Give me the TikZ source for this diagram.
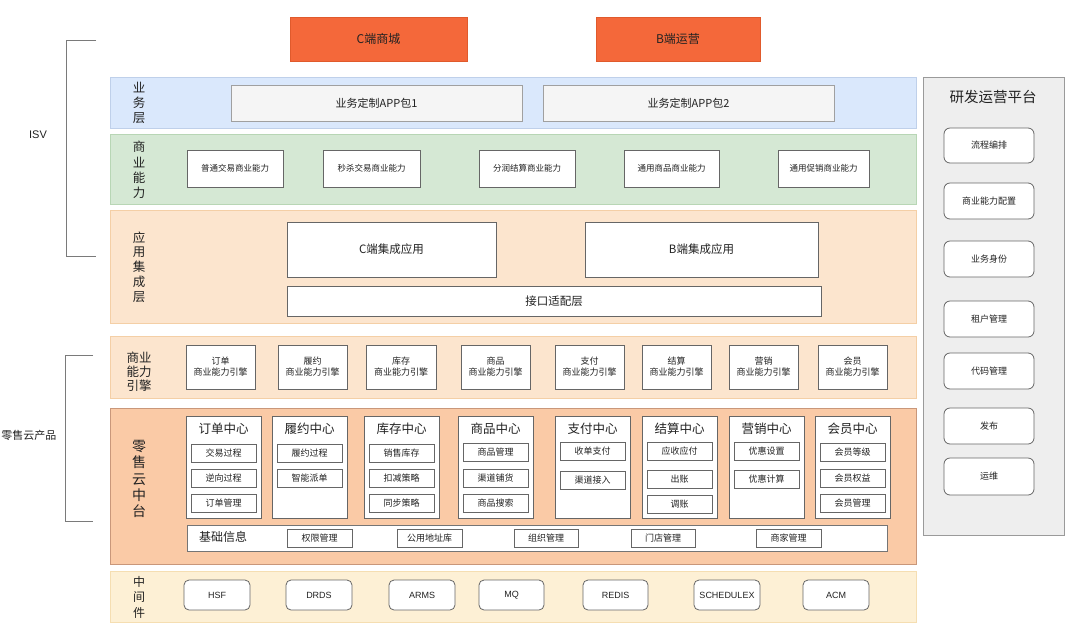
\documentclass[tikz,border=0pt]{standalone}
\usepackage{fontspec}
\setmainfont{Noto Sans CJK SC}
\newfontfamily\latinf{Liberation Sans}
\definecolor{cT}{HTML}{222222}
\definecolor{cOrF}{HTML}{F4683A}
\definecolor{cOrD}{HTML}{E05A2C}
\definecolor{cBlF}{HTML}{DAE8FC}
\definecolor{cBlD}{HTML}{BFD0EA}
\definecolor{cGrF}{HTML}{D5E8D4}
\definecolor{cGrD}{HTML}{B8D6B5}
\definecolor{cPeF}{HTML}{FCE5CE}
\definecolor{cPeD}{HTML}{F4CFA6}
\definecolor{cSpF}{HTML}{FACAA6}
\definecolor{cSpD}{HTML}{C9977A}
\definecolor{cYeF}{HTML}{FDF0D5}
\definecolor{cYeD}{HTML}{F5DEB2}
\definecolor{cPaF}{HTML}{EEEEEE}
\definecolor{cPaD}{HTML}{9A9A9A}
\definecolor{cBoxD}{HTML}{666666}
\definecolor{cAppF}{HTML}{F5F5F5}
\definecolor{cAppD}{HTML}{A0A0A0}
\definecolor{cBr}{HTML}{7A7A7A}
\newcommand\fsz[2]{\fontsize{#1}{#2}\selectfont}
\newcommand\mkbox[7]{\node[#6,minimum width={((#4)-(#2))*1pt},minimum height={((#5)-(#3))*1pt}] (#1) at ({((#2)+(#4))/2},{((#3)+(#5))/2}) {#7};}
\newcommand\ctr[3]{\mkbox{#1}{#2}{416}{#2+75}{518}{cbox}{}\node[ctitle] (#1t) at ({#2+37.5},429) {#3};}
\newcommand\itm[4]{\mkbox{#1}{#2+5}{#3}{#2+70}{#3+18}{ibox}{#4}}
\begin{document}
\begin{tikzpicture}[x=1pt,y=-1pt,
  every node/.style={inner sep=0pt,outer sep=0pt,text=cT,align=center},
  band/.style n args={2}{draw=#2,fill=#1,line width=0.8pt},
  topbox/.style={draw=cOrD,fill=cOrF,line width=0.8pt,font=\fsz{12}{14}},
  appbox/.style={draw=cAppD,fill=cAppF,line width=0.8pt,font=\fsz{11}{13}},
  tbox/.style={draw=cBoxD,fill=white,line width=0.8pt},
  capbox/.style={tbox,font=\fsz{8.5}{10}},
  intbox/.style={tbox,font=\fsz{11.5}{13}},
  engbox/.style={tbox,font=\fsz{9}{11}},
  cbox/.style={tbox},
  ctitle/.style={font=\fsz{12.5}{14}},
  ibox/.style={tbox,font=\fsz{9}{10}},
  basebox/.style={draw=cBoxD!90,fill=white,line width=0.8pt},
  bitem/.style={tbox,font=\fsz{9}{10}},
  mwbox/.style={tbox,rounded corners=5pt,font=\latinf\fsz{9}{10}},
  pbox/.style={tbox,rounded corners=6pt,font=\fsz{9}{10}},
  vlab/.style={font=\fsz{12.5}{15}},
  bracket/.style={draw=cBr,line width=1pt},
  side/.style={font=\fsz{11}{13}}]
\fill[white] (0,0) rectangle (1080,633);
\useasboundingbox (0,0) rectangle (1080,633);

% top boxes
\mkbox{cmall}{290}{17}{467}{61}{topbox}{C端商城}
\mkbox{bops}{596}{17}{760}{61}{topbox}{B端运营}

% ISV bracket
\coordinate (isvA) at (96,40);
\coordinate (isvB) at (96,256);
\draw[bracket] (isvA) -- ++(-30,0) |- (isvB);
\node[side,font=\latinf\fsz{11}{13}] (isv) at (38,135) {ISV};

% retail bracket
\coordinate (rtA) at (93,355);
\coordinate (rtB) at (93,521);
\draw[bracket] (rtA) -- ++(-28,0) |- (rtB);
\node[side] (rtl) at (29,435) {零售云产品};

% bands
\mkbox{bizband}{110}{77}{916}{128}{band={cBlF}{cBlD}}{}
\mkbox{capband}{110}{134}{916}{204}{band={cGrF}{cGrD}}{}
\mkbox{intband}{110}{210}{916}{323}{band={cPeF}{cPeD}}{}
\mkbox{engband}{110}{336}{916}{398}{band={cPeF}{cPeD}}{}
\mkbox{retband}{110}{408}{916}{564}{band={cSpF}{cSpD}}{}
\mkbox{mwband}{110}{571}{916}{622}{band={cYeF}{cYeD}}{}

% band labels
\node[vlab,font=\fsz{12.5}{15}] (lbiz) at (139,103) {业\\务\\层};
\node[vlab,font=\fsz{12.5}{15.3}] (lcap) at (139,170) {商\\业\\能\\力};
\node[vlab,font=\fsz{12.5}{14.8}] (lint) at (139,267) {应\\用\\集\\成\\层};
\node[vlab,font=\fsz{12.5}{13.8}] (leng) at (139,372) {商业\\能力\\引擎};
\node[vlab,font=\fsz{14}{16.3}] (lret) at (139,479) {零\\售\\云\\中\\台};
\node[vlab,font=\fsz{12}{15.5}] (lmw) at (139,597) {中\\间\\件};

% business layer
\mkbox{app1}{231}{85}{522}{121}{appbox}{业务定制APP包1}
\mkbox{app2}{543}{85}{834}{121}{appbox}{业务定制APP包2}

% capability layer
\mkbox{cap1}{187}{150}{283}{187}{capbox}{普通交易商业能力}
\mkbox{cap2}{323}{150}{420}{187}{capbox}{秒杀交易商业能力}
\mkbox{cap3}{479}{150}{575}{187}{capbox}{分润结算商业能力}
\mkbox{cap4}{624}{150}{719}{187}{capbox}{通用商品商业能力}
\mkbox{cap5}{778}{150}{869}{187}{capbox}{通用促销商业能力}

% integration layer
\mkbox{cint}{287}{222}{496}{277}{intbox}{C端集成应用}
\mkbox{bint}{585}{222}{818}{277}{intbox}{B端集成应用}
\mkbox{adapt}{287}{286}{821}{316}{intbox}{接口适配层}

% engines
\mkbox{e1}{186}{345}{255}{389}{engbox}{订单\\商业能力引擎}
\mkbox{e2}{278}{345}{347}{389}{engbox}{履约\\商业能力引擎}
\mkbox{e3}{366}{345}{436}{389}{engbox}{库存\\商业能力引擎}
\mkbox{e4}{461}{345}{530}{389}{engbox}{商品\\商业能力引擎}
\mkbox{e5}{555}{345}{624}{389}{engbox}{支付\\商业能力引擎}
\mkbox{e6}{642}{345}{711}{389}{engbox}{结算\\商业能力引擎}
\mkbox{e7}{729}{345}{798}{389}{engbox}{营销\\商业能力引擎}
\mkbox{e8}{818}{345}{887}{389}{engbox}{会员\\商业能力引擎}

% centers
\ctr{c1}{186}{订单中心}
\itm{c1a}{186}{444}{交易过程}
\itm{c1b}{186}{469}{逆向过程}
\itm{c1c}{186}{494}{订单管理}
\ctr{c2}{272}{履约中心}
\itm{c2a}{272}{444}{履约过程}
\itm{c2b}{272}{469}{智能派单}
\ctr{c3}{364}{库存中心}
\itm{c3a}{364}{444}{销售库存}
\itm{c3b}{364}{469}{扣减策略}
\itm{c3c}{364}{494}{同步策略}
\ctr{c4}{458}{商品中心}
\itm{c4a}{458}{443}{商品管理}
\itm{c4b}{458}{469}{渠道铺货}
\itm{c4c}{458}{494}{商品搜索}
\ctr{c5}{555}{支付中心}
\itm{c5a}{555}{442}{收单支付}
\itm{c5b}{555}{471}{渠道接入}
\ctr{c6}{642}{结算中心}
\itm{c6a}{642}{442}{应收应付}
\itm{c6b}{642}{470}{出账}
\itm{c6c}{642}{495}{调账}
\ctr{c7}{729}{营销中心}
\itm{c7a}{729}{442}{优惠设置}
\itm{c7b}{729}{470}{优惠计算}
\ctr{c8}{815}{会员中心}
\itm{c8a}{815}{443}{会员等级}
\itm{c8b}{815}{469}{会员权益}
\itm{c8c}{815}{494}{会员管理}

% base info
\mkbox{base}{187}{525}{887}{551}{basebox}{}
\node[font=\fsz{12}{14}] (baset) at (223,537) {基础信息};
\mkbox{b1}{287}{529}{352}{547}{bitem}{权限管理}
\mkbox{b2}{397}{529}{462}{547}{bitem}{公用地址库}
\mkbox{b3}{514}{529}{578}{547}{bitem}{组织管理}
\mkbox{b4}{631}{529}{695}{547}{bitem}{门店管理}
\mkbox{b5}{756}{529}{821}{547}{bitem}{商家管理}

% middleware
\mkbox{m1}{184}{580}{250}{610}{mwbox}{HSF}
\mkbox{m2}{286}{580}{352}{610}{mwbox}{DRDS}
\mkbox{m3}{389}{580}{455}{610}{mwbox}{ARMS}
\mkbox{m4}{479}{580}{544}{610}{mwbox}{MQ}
\mkbox{m5}{583}{580}{648}{610}{mwbox}{REDIS}
\mkbox{m6}{694}{580}{760}{610}{mwbox}{SCHEDULEX}
\mkbox{m7}{803}{580}{869}{610}{mwbox}{ACM}

% right panel
\mkbox{panel}{923}{77}{1064}{535}{band={cPaF}{cPaD}}{}
\node[font=\fsz{14.5}{16}] (panelt) at (993,97) {研发运营平台};
\mkbox{p1}{944}{128}{1034}{163}{pbox}{流程编排}
\mkbox{p2}{944}{183}{1034}{219}{pbox}{商业能力配置}
\mkbox{p3}{944}{241}{1034}{277}{pbox}{业务身份}
\mkbox{p4}{944}{301}{1034}{337}{pbox}{租户管理}
\mkbox{p5}{944}{353}{1034}{389}{pbox}{代码管理}
\mkbox{p6}{944}{408}{1034}{444}{pbox}{发布}
\mkbox{p7}{944}{458}{1034}{495}{pbox}{运维}
\end{tikzpicture}
\end{document}
